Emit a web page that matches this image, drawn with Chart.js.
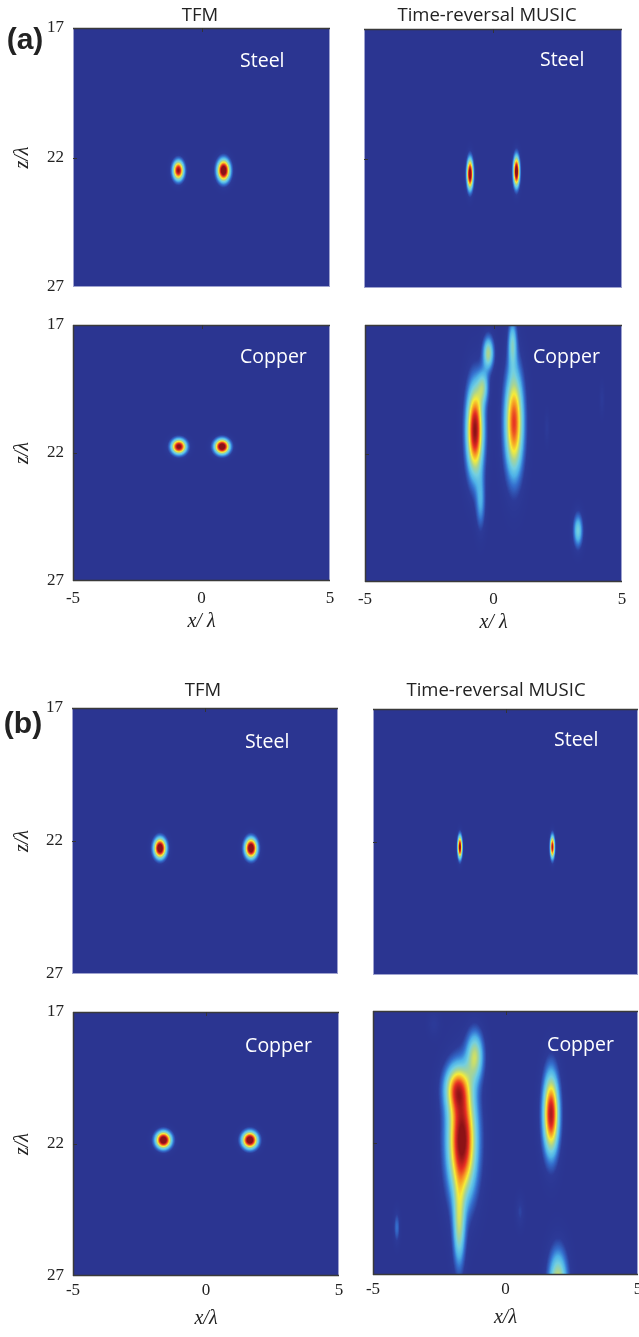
<!DOCTYPE html>
<html>
<head>
<meta charset="utf-8">
<script src="https://cdn.jsdelivr.net/npm/chart.js@4.4.0/dist/chart.umd.min.js"></script>
<style>
  body { margin: 0; background: #fff; width: 639px; height: 1337px; position: relative; overflow: hidden; }
  canvas { position: absolute; }
</style>
</head>
<body>
<script>
// axes
var xTicks = [-5, 0, 5];
var zTicks = [17, 22, 27];

// spots: [x/λ, z/λ, half width in x, half height in z, peak level (saturates above 1)]
var tfmSteelA = [[-0.9, 22.5, 0.3, 0.52, 1.0], [0.86, 22.5, 0.34, 0.58, 1.15]];
var musicSteelA = [[-0.89, 22.6, 0.17, 0.8, 1.1], [0.91, 22.5, 0.17, 0.8, 1.1]];
var tfmCopperA = [[-0.88, 21.75, 0.4, 0.4, 1.05], [0.8, 21.75, 0.4, 0.4, 1.15]];
var musicCopperA = [
  [-0.72, 21.1, 0.46, 2.4, 1.0],
  [-0.2, 18.1, 0.3, 0.9, 0.5],
  [-0.4, 19.4, 0.3, 0.9, 0.35],
  [-0.5, 23.9, 0.26, 1.5, 0.25],
  [0.8, 20.8, 0.5, 2.8, 0.85],
  [0.74, 17.7, 0.24, 1.3, 0.35],
  [3.29, 25.0, 0.26, 0.9, 0.38],
  [2.08, 21.0, 0.12, 0.8, 0.08],
  [4.22, 19.9, 0.12, 0.8, 0.08]
];
var tfmSteelB = [[-1.69, 22.27, 0.32, 0.52, 1.15], [1.73, 22.27, 0.32, 0.52, 1.15]];
var musicSteelB = [[-1.72, 22.19, 0.12, 0.58, 1.05], [1.77, 22.19, 0.12, 0.58, 0.95]];
var tfmCopperB = [[-1.6, 21.85, 0.4, 0.44, 1.15], [1.65, 21.85, 0.4, 0.44, 1.15]];
var musicCopperB = [
  [-1.64, 21.9, 0.75, 3.0, 1.05],
  [-1.85, 19.9, 0.65, 1.2, 0.55],
  [-1.75, 25.2, 0.32, 2.2, 0.45],
  [-1.15, 18.7, 0.45, 1.3, 0.5],
  [1.72, 20.9, 0.42, 2.1, 0.95],
  [1.98, 27.4, 0.5, 1.8, 0.6],
  [-4.1, 25.2, 0.16, 0.8, 0.18],
  [0.55, 24.6, 0.22, 0.8, 0.1],
  [-2.7, 17.5, 0.3, 0.6, 0.08]
];

// faded jet colour map
var mapStops = [
  [0.00, 43, 53, 145], [0.08, 44, 58, 152], [0.18, 52, 110, 205], [0.28, 78, 178, 232],
  [0.38, 115, 207, 224], [0.50, 170, 212, 145], [0.62, 246, 236, 55], [0.74, 246, 150, 35],
  [0.86, 230, 45, 35], [1.00, 140, 18, 22]
];
var lut = [];
for (var i = 0; i < 256; i++) {
  var t = i / 255, k = 1;
  while (k < mapStops.length - 1 && mapStops[k][0] < t) k++;
  var a = mapStops[k - 1], b = mapStops[k], f = (t - a[0]) / (b[0] - a[0]);
  lut.push([a[1] + (b[1] - a[1]) * f, a[2] + (b[2] - a[2]) * f, a[3] + (b[3] - a[3]) * f]);
}

var spotField = {
  id: 'spotField',
  beforeDatasetsDraw: function (chart) {
    var ar = chart.chartArea, xs = chart.scales.x, ys = chart.scales.y;
    var spots = chart.data.datasets[0].data;
    var left = Math.round(ar.left), top = Math.round(ar.top);
    var w = Math.round(ar.right) - left, h = Math.round(ar.bottom) - top;
    var img = chart.ctx.createImageData(w, h);
    for (var j = 0; j < h; j++) {
      var zv = ys.getValueForPixel(top + j + 0.5);
      for (var i = 0; i < w; i++) {
        var xv = xs.getValueForPixel(left + i + 0.5), v = 0;
        for (var s = 0; s < spots.length; s++) {
          var p = spots[s], dx = (xv - p.x) / p.rx, dz = (zv - p.y) / p.rz;
          v += p.v * Math.exp(-2 * (dx * dx + dz * dz));
        }
        var c = lut[Math.round(Math.min(v, 1) * 255)], o = (j * w + i) * 4;
        img.data[o] = c[0]; img.data[o + 1] = c[1]; img.data[o + 2] = c[2]; img.data[o + 3] = 255;
      }
    }
    chart.ctx.putImageData(img, left, top);
  }
};

var panelText = {
  id: 'panelText',
  afterDraw: function (chart, args, o) {
    var ctx = chart.ctx, ar = chart.chartArea, xs = chart.scales.x, ys = chart.scales.y;
    ctx.save();
    // frame
    ctx.strokeStyle = '#9ea2cf'; ctx.lineWidth = 1;
    ctx.strokeRect(ar.left + 0.5, ar.top + 0.5, ar.right - ar.left - 1, ar.bottom - ar.top - 1);
    ctx.strokeStyle = '#3a3a3a'; ctx.lineWidth = 1.5;
    ctx.beginPath();
    ctx.moveTo(ar.left, ar.top + 0.5); ctx.lineTo(ar.right, ar.top + 0.5);
    if (o.bottom) {
      ctx.moveTo(ar.left + 0.5, ar.top); ctx.lineTo(ar.left + 0.5, ar.bottom);
      ctx.moveTo(ar.left, ar.bottom - 0.5); ctx.lineTo(ar.right, ar.bottom - 0.5);
    }
    ctx.stroke();
    // inner tick marks
    ctx.lineWidth = 1; ctx.strokeStyle = '#333';
    ctx.beginPath();
    var x0 = Math.round(xs.getPixelForValue(xTicks[1])) + 0.5;
    ctx.moveTo(x0, ar.top); ctx.lineTo(x0, ar.top + 4);
    var z0 = Math.round(ys.getPixelForValue(zTicks[1])) + 0.5;
    ctx.moveTo(ar.left, z0); ctx.lineTo(ar.left + 4, z0);
    ctx.stroke();
    // material label
    ctx.fillStyle = '#fff';
    ctx.font = '19.5px "Open Sans"';
    ctx.textAlign = 'left'; ctx.textBaseline = 'middle';
    ctx.fillText(o.name, xs.getPixelForValue(o.at[0]), ys.getPixelForValue(o.at[1]));
    // column title and group tag (page coordinates)
    var ox = parseFloat(chart.canvas.style.left), oy = parseFloat(chart.canvas.style.top);
    ctx.fillStyle = '#222';
    if (o.title) {
      ctx.font = '18.5px "Open Sans"'; ctx.textAlign = 'center';
      ctx.fillText(o.title, o.titleAt[0] - ox, o.titleAt[1] - oy);
    }
    if (o.tag) {
      ctx.font = 'bold 30px "Liberation Sans"'; ctx.textAlign = 'center';
      ctx.fillText(o.tag, o.tagAt[0] - ox, o.tagAt[1] - oy);
    }
    ctx.restore();
  }
};

var panels = [
  { box: [73, 28, 330, 287], spots: tfmSteelA, name: 'Steel', at: [1.5, 18.3], title: 'TFM', titleAt: [200, 16], tag: '(a)', tagAt: [25, 41], left: true, padT: 28 },
  { box: [364, 29, 622, 288], spots: musicSteelA, name: 'Steel', at: [1.82, 18.2], title: 'Time-reversal MUSIC', titleAt: [487, 16], padT: 29 },
  { box: [73, 325, 330, 581], spots: tfmCopperA, name: 'Copper', at: [1.5, 18.25], left: true, bottom: true, xTitle: 'x/ λ', xPad: 7, xTitlePad: 5, padT: 12 },
  { box: [365, 325, 622, 582], spots: musicCopperA, name: 'Copper', at: [1.54, 18.25], bottom: true, xTitle: 'x/ λ', xPad: 7, xTitlePad: 5, padT: 12 },
  { box: [72, 708, 338, 974], spots: tfmSteelB, name: 'Steel', at: [1.5, 18.28], title: 'TFM', titleAt: [203, 691], tag: '(b)', tagAt: [23, 725], left: true, padT: 50 },
  { box: [373, 709, 638, 975], spots: musicSteelB, name: 'Steel', at: [1.83, 18.17], title: 'Time-reversal MUSIC', titleAt: [496, 691], padT: 50 },
  { box: [73, 1012, 339, 1276], spots: tfmCopperB, name: 'Copper', at: [1.47, 18.29], left: true, bottom: true, xTitle: 'x/λ', xPad: 4, xTitlePad: 3, padT: 12 },
  { box: [373, 1011, 638, 1275], spots: musicCopperB, name: 'Copper', at: [1.57, 18.3], bottom: true, xTitle: 'x/λ', xPad: 4, xTitlePad: 3, padT: 12 }
];

panels.forEach(function (p) {
  var padL = p.left ? p.box[0] : 12;
  var padB = p.bottom ? 58 : 6;
  var padR = 10;
  var cv = document.createElement('canvas');
  cv.width = p.box[2] - p.box[0] + padL + padR;
  cv.height = p.box[3] - p.box[1] + p.padT + padB;
  cv.style.left = (p.box[0] - padL) + 'px';
  cv.style.top = (p.box[1] - p.padT) + 'px';
  document.body.appendChild(cv);

  var tickFont = { family: '"Liberation Serif", "Times New Roman", serif', size: 17 };
  var titleFont = { family: '"Liberation Serif", "Times New Roman", serif', size: 20, style: 'italic' };

  new Chart(cv, {
    type: 'scatter',
    data: {
      datasets: [{
        data: p.spots.map(function (s) { return { x: s[0], y: s[1], rx: s[2], rz: s[3], v: s[4] }; }),
        pointRadius: 0
      }]
    },
    options: {
      responsive: false,
      animation: false,
      events: [],
      layout: { padding: { left: 0, top: p.padT, right: padR, bottom: 0 } },
      plugins: {
        legend: { display: false },
        tooltip: { enabled: false },
        panelText: { name: p.name, at: p.at, title: p.title, titleAt: p.titleAt, tag: p.tag, tagAt: p.tagAt, bottom: p.bottom }
      },
      scales: {
        x: {
          type: 'linear', min: -5, max: 5,
          grid: { display: false, drawTicks: false },
          border: { display: false },
          ticks: { display: !!p.bottom, padding: p.xPad || 0, font: tickFont, color: '#222' },
          afterBuildTicks: function (s) { s.ticks = xTicks.map(function (v) { return { value: v }; }); },
          afterFit: function (s) { s.height = padB; s.paddingLeft = 0; s.paddingRight = 0; },
          title: { display: !!p.bottom, text: p.xTitle, font: titleFont, color: '#222', padding: { top: 0, bottom: p.xTitlePad || 0 } }
        },
        y: {
          type: 'linear', min: 17, max: 27, reverse: true,
          grid: { display: false, drawTicks: false },
          border: { display: false },
          ticks: { display: !!p.left, padding: 9, font: tickFont, color: '#222' },
          afterBuildTicks: function (s) { s.ticks = zTicks.map(function (v) { return { value: v }; }); },
          afterFit: function (s) { s.width = padL; s.paddingTop = 0; s.paddingBottom = 0; },
          title: { display: !!p.left, text: 'z/λ', font: titleFont, color: '#222', padding: { top: 11, bottom: 0 } }
        }
      }
    },
    plugins: [spotField, panelText]
  });
});
</script>
</body>
</html>
